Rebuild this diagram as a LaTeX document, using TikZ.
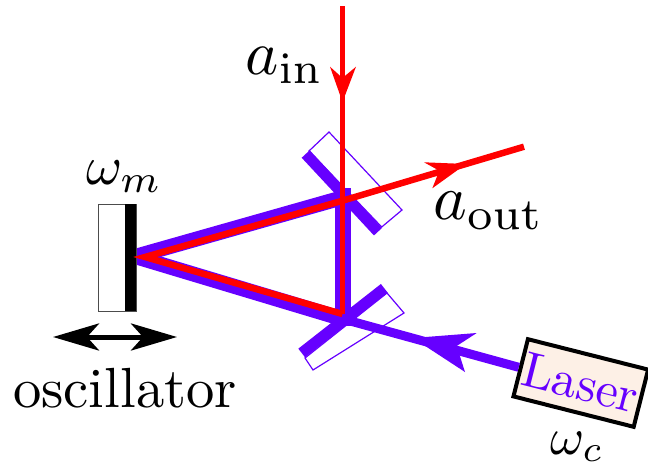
\documentclass[tikz,border=0pt]{standalone}
\usepackage{graphicx}
\usetikzlibrary{arrows.meta}
\definecolor{beam}{HTML}{6600FF}
\definecolor{ray}{HTML}{FF0000}
\definecolor{laserfill}{HTML}{FDF0E6}
\tikzset{
  x=1pt,y=-1pt,
  bluebeam/.style={draw=beam,line width=#1},
  redray/.style={draw=ray,line width=6.5pt},
  glass/.style={draw=beam,line width=1.2pt,fill=white},
  mirrorbar/.style={draw=beam,line width=11pt},
  lbl/.style={inner sep=0pt,anchor=base west},
}
\begin{document}
\begin{tikzpicture}
\useasboundingbox (0,0) rectangle (648,466);
% coordinates
\coordinate (focus) at (135,256.5);
\coordinate (upper) at (343,197.5);
\coordinate (lower) at (343,319);
\coordinate (redfocus) at (145,257);
\coordinate (redupper) at (342.5,200.7);
\coordinate (redlower) at (342.5,314);
\coordinate (top) at (342.5,6);
\coordinate (out) at (524,146.7);
% glass plates
\draw[glass] (329,132) -- (402,210) -- (381.7,227) -- (309,151) -- cycle;
\draw[glass] (387,293) -- (404,313) -- (313,370) -- (305,358) -- cycle;
% blue beams
\draw[bluebeam=15pt] (focus) -- (upper);
\draw[bluebeam=15pt] (focus) -- (lower);
\draw[bluebeam=16pt] (343,188) -- (343,326);
% oscillator
\node[draw=black!70,line width=1pt,minimum width=38pt,minimum height=107pt,inner sep=0pt,fill=white] (osc) at (117,257.5) {};
\fill[black] (125,204) rectangle (136,311);
% mirror bars
\draw[mirrorbar] (305.7,154) -- (378,231.7);
\draw[mirrorbar] (301.7,353) -- (384.3,288.3);
% laser
\node[draw=black,line width=4pt,fill=laserfill,rotate=-14.2,minimum width=124pt,minimum height=59pt,inner sep=0pt,text=beam] (laser) at (580.8,383) {\scalebox{5}{Laser}};
\draw[draw=beam,line width=9pt] (laser.west) -- (lower);
\fill[beam] (413,338) -- (476.7,333) -- (456.7,346) -- (465,372) -- cycle;
% red rays
\draw[draw=ray,line width=5.5pt] (top) -- (redlower);
\draw[redray] (out) -- (redupper) -- (redfocus) -- (redlower);
\fill[ray] (342.5,102) -- (330,66.7) -- (342.5,78) -- (356,66.7) -- cycle;
\fill[ray] (466,164) -- (424,162.3) -- (439.3,170.7) -- (432.3,188.3) -- cycle;
% arrow
\coordinate (arrL) at (53,337);
\coordinate (arrR) at (177,337);
\draw[line width=5pt,{Stealth[length=46pt,width=27pt,inset=12pt]}-{Stealth[length=46pt,width=27pt,inset=12pt]}] (arrL) -- (arrR);
% labels
\node[lbl] (ain) at (245,74) {\scalebox{6.3}{$a_{\rm in}$}};
\node[lbl] (aout) at (433,219.5) {\scalebox{6.4}{$a_{\rm out}$}};
\node[lbl] (wm) at (86,184) {\scalebox{5.5}{$\omega_m$}};
\node[lbl] (wc) at (550,454) {\scalebox{5.2}{$\omega_c$}};
\node[lbl] (oscl) at (13,407) {\scalebox{5.66}{oscillator}};
\end{tikzpicture}
\end{document}
